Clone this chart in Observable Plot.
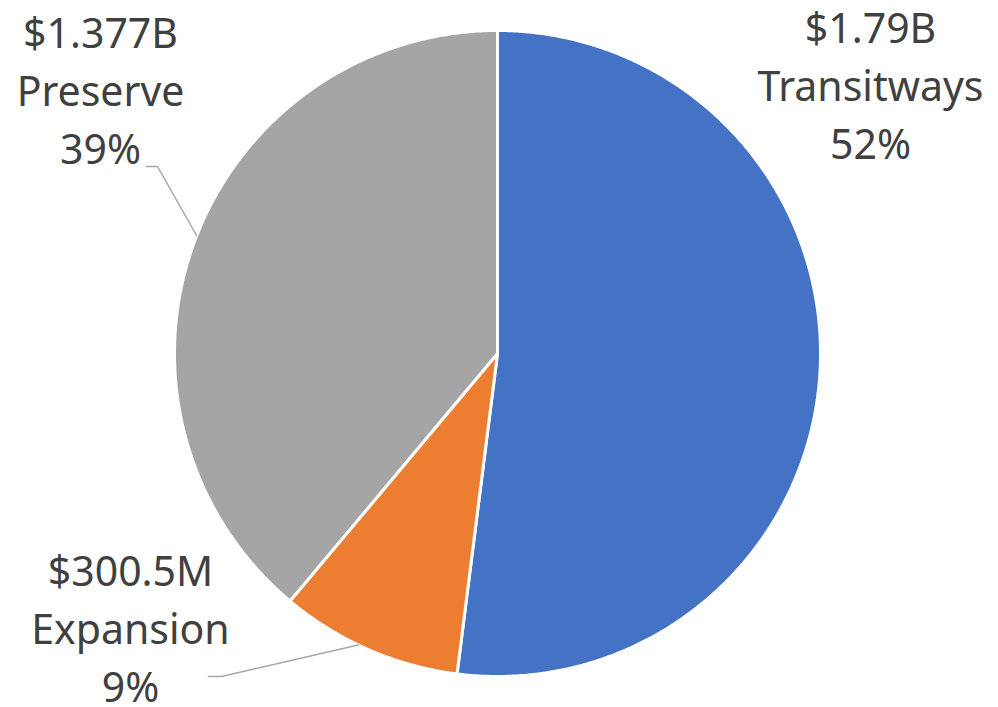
<!DOCTYPE html>
<html>
<head>
<meta charset="utf-8">
<script src="https://cdn.jsdelivr.net/npm/d3@7"></script>
<script src="https://cdn.jsdelivr.net/npm/@observablehq/plot@0.6"></script>
<style>
  html, body { margin: 0; padding: 0; background: #fff; }
  #chart svg { display: block; }
</style>
</head>
<body>
<div id="chart"></div>
<script>
// ---- data ----
const categories = ["Transitways", "Expansion", "Preserve"];
const amountLabels = ["$1.79B", "$300.5M", "$1.377B"];
const percentLabels = ["52%", "9%", "39%"];
// slice shares (%)
const shares = [52.0, 9.1, 38.9];
const colors = ["#4472C4", "#ED7D31", "#A5A5A5"];

// ---- layout ----
const W = 998, H = 707;
const cx = 497, cy = 353, R = 323;
const fontSize = 41, lineGap = 58;
// label block anchor (baseline of first line) and leader routes per slice
const labelLayout = [
  {x: 870, y: 42.5, leader: null},
  {x: 130, y: 585, leader: {from: [208, 676], elbow: [221, 676], angleFrac: 0.56}},
  {x: 100, y: 47.5, leader: {from: [146, 166], elbow: [157, 166], angleFrac: 0.51}}
];

const table = categories.map((c, i) => ({
  category: c, value: shares[i], amount: amountLabels[i], pct: percentLabels[i], color: colors[i]
}));

const pie = d3.pie().sort(null).value(d => d.value).startAngle(0).endAngle(2 * Math.PI);
const arcs = pie(table);

const pt = (a, r) => ({x: cx + r * Math.sin(a), y: cy - r * Math.cos(a)});

const sliceMarks = arcs.map(a => {
  const pts = [{x: cx, y: cy}];
  const n = Math.max(8, Math.ceil((a.endAngle - a.startAngle) / (Math.PI / 360)));
  for (let k = 0; k <= n; k++) {
    const ang = a.startAngle + (a.endAngle - a.startAngle) * k / n;
    pts.push(pt(ang, R));
  }
  pts.push({x: cx, y: cy});
  return Plot.line(pts, {
    x: "x", y: "y", fill: a.data.color, stroke: "white", strokeWidth: 3,
    strokeLinejoin: "round", curve: "linear"
  });
});

// leader lines: from label to point on the arc edge
const leaderMarks = arcs.map((a, i) => {
  const L = labelLayout[i].leader;
  if (!L) return null;
  const ang = a.startAngle + (a.endAngle - a.startAngle) * L.angleFrac;
  const edge = pt(ang, R);
  const pts = [{x: L.from[0], y: L.from[1]}, {x: L.elbow[0], y: L.elbow[1]}, edge];
  return Plot.line(pts, {x: "x", y: "y", stroke: "#A6A6A6", strokeWidth: 1.5});
}).filter(Boolean);

const textRows = [];
table.forEach((d, i) => {
  const L = labelLayout[i];
  [d.amount, d.category, d.pct].forEach((t, j) => {
    textRows.push({x: L.x, y: L.y + j * lineGap, text: t});
  });
});

const chart = Plot.plot({
  width: W, height: H,
  margin: 0,
  x: {domain: [0, W], range: [0, W], axis: null},
  y: {domain: [0, H], range: [0, H], axis: null},
  style: {background: "#fff"},
  marks: [
    ...sliceMarks,
    ...leaderMarks,
    Plot.text(textRows, {
      x: "x", y: "y", text: "text", textAnchor: "middle", lineAnchor: "bottom",
      fontSize: fontSize, fill: "#404040", fontFamily: "Noto Sans"
    })
  ]
});
document.getElementById("chart").appendChild(chart);
</script>
</body>
</html>
